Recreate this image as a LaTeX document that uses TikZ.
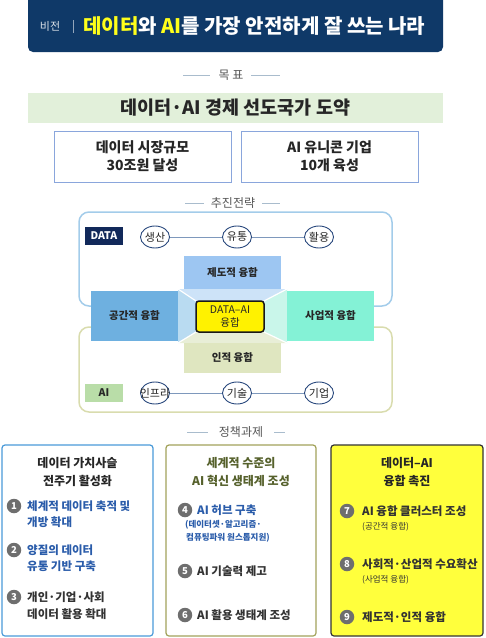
\documentclass[tikz,border=0pt]{standalone}
\usepackage{fontspec}
\setmainfont{Noto Sans CJK KR}
\usetikzlibrary{shapes.geometric}
\definecolor{navy}{HTML}{0F3968}
\definecolor{labnavy}{HTML}{12295A}
\definecolor{yel}{HTML}{FFFF1A}
\definecolor{bargreen}{HTML}{E2F0DA}
\definecolor{goalblue}{HTML}{8AA6DC}
\definecolor{dataline}{HTML}{A3CCEA}
\definecolor{ailine}{HTML}{D9DCAE}
\definecolor{circnavy}{HTML}{2B4A7E}
\definecolor{connblue}{HTML}{7E98BC}
\definecolor{aigreen}{HTML}{B9DDA8}
\definecolor{fTop}{HTML}{9DC6F2}
\definecolor{fLeft}{HTML}{6EB0E0}
\definecolor{fRight}{HTML}{84F2D6}
\definecolor{fBot}{HTML}{DFE6C0}
\definecolor{tTop}{HTML}{CDE3F8}
\definecolor{tLeft}{HTML}{B9DBF1}
\definecolor{tRight}{HTML}{C9F6EA}
\definecolor{tBot}{HTML}{E8EED7}
\definecolor{secgray}{HTML}{555555}
\definecolor{secline}{HTML}{A9BCCD}
\definecolor{bOne}{HTML}{4A9AD8}
\definecolor{bTwo}{HTML}{A2A25A}
\definecolor{bThree}{HTML}{333333}
\definecolor{yfill}{HTML}{FFFF3C}
\definecolor{itemblue}{HTML}{2A5CAA}
\definecolor{itemdark}{HTML}{333333}
\definecolor{olivehead}{HTML}{56612C}
\definecolor{numgray}{HTML}{6E6E6E}
\newcommand{\myfs}[1]{\fontsize{#1}{#1}\selectfont}
\begin{document}
\begin{tikzpicture}[x=1pt,y=-1pt,
  sechead/.style={font=\myfs{12}, text=secgray, inner sep=0},
  seclinestyle/.style={draw=secline, line width=0.8},
  goalbox/.style={draw=goalblue, line width=1, minimum width=177, minimum height=51, align=center, inner sep=0, font=\bfseries\fontsize{14}{18.5}\selectfont, text=black!85},
  circ/.style={ellipse, draw=circnavy, line width=0.9, fill=white, minimum width=29, minimum height=22, inner sep=0, font=\myfs{11}, text=black!85},
  conn/.style={draw=connblue, line width=0.7},
  fbox/.style={inner sep=0, font=\bfseries\myfs{10.5}, text=black!85},
  numc/.style={circle, fill=numgray, minimum size=14.5, inner sep=0, text=white, font=\bfseries\myfs{9.5}},
  itemtext/.style={anchor=west, inner sep=0, font=\bfseries\myfs{11.5}},
  subtext/.style={anchor=west, inner sep=0, font=\bfseries\myfs{8.5}},
  head/.style={inner sep=0, align=center, font=\bfseries\fontsize{12}{18}\selectfont}
]
\useasboundingbox (0,0) rectangle (486,638);
\begin{scope}
\clip (0,0) rectangle (486,638);
% ---------- vision banner
\fill[navy, rounded corners=5] (28,-10) rectangle (443,52);
\end{scope}
\node[inner sep=0, font=\myfs{11}, text=white!85!navy] (vlab) at (50,26) {비전};
\draw[draw=white!55!navy, line width=0.6] (73,20) -- (73,33);
\node[anchor=west, inner sep=0, font=\bfseries\myfs{20}, text=white] (vision) at (83,26)
  {\textcolor{yel}{데이터}와 \textcolor{yel}{AI}를 가장 안전하게 잘 쓰는 나라};
% ---------- goals
\node[sechead] (goal) at (231,75) {목 표};
\draw[seclinestyle] (183,75) -- (210,75);
\draw[seclinestyle] (251,75) -- (280,75);
\node[fill=bargreen, minimum width=415, minimum height=30, inner sep=0, font=\bfseries\myfs{18.5}, text=black!85] (goalbar) at (235.5,108) {데이터·AI 경제 선도국가 도약};
\node[goalbox] (g1) at (142.5,156.5) {데이터 시장규모\\30조원 달성};
\node[goalbox] (g2) at (329.5,156.5) {AI 유니콘 기업\\10개 육성};
% ---------- strategy
\node[sechead] (strat) at (233,203) {추진전략};
\draw[seclinestyle] (185,203) -- (204,203);
\draw[seclinestyle] (262,203) -- (280,203);
\draw[draw=dataline, line width=1.5, rounded corners=10] (79,212) rectangle (392,306);
\draw[draw=ailine, line width=1.5, rounded corners=10] (79,327) rectangle (392,412);
\node[fill=labnavy, text=white, font=\bfseries\myfs{10.5}, minimum width=38, minimum height=18, inner sep=0] (datalab) at (104,236) {DATA};
\node[fill=aigreen, text=black!85, font=\bfseries\myfs{10.5}, minimum width=38, minimum height=18, inner sep=0] (ailab) at (104,393) {AI};
\node[circ] (c1) at (155,237) {\makebox[0pt]{생산}};
\node[circ] (c2) at (237,237) {\makebox[0pt]{유통}};
\node[circ] (c3) at (319,237) {\makebox[0pt]{활용}};
\node[circ] (c4) at (155,393) {\makebox[0pt]{인프라}};
\node[circ] (c5) at (237,393) {\makebox[0pt]{기술}};
\node[circ] (c6) at (319,393) {\makebox[0pt]{기업}};
\draw[conn] (c1) -- (c2);
\draw[conn] (c2) -- (c3);
\draw[conn] (c4) -- (c5);
\draw[conn] (c5) -- (c6);
% trapezoids
\fill[tTop] (178,289) -- (287,289) -- (264,301) -- (196,301) -- cycle;
\fill[tLeft] (178,289) -- (196,301) -- (196,332) -- (178,343) -- cycle;
\fill[tRight] (287,289) -- (287,343) -- (264,332) -- (264,301) -- cycle;
\fill[tBot] (178,343) -- (287,343) -- (264,332) -- (196,332) -- cycle;
\draw[white, line width=1.2] (178,289) -- (196,301);
\draw[white, line width=1.2] (287,289) -- (264,301);
\draw[white, line width=1.2] (178,343) -- (196,332);
\draw[white, line width=1.2] (287,343) -- (264,332);
\node[fbox, fill=fTop, minimum width=97, minimum height=33] (ftop) at (232.5,272.5) {제도적 융합};
\node[fbox, fill=fLeft, minimum width=87, minimum height=50] (fleft) at (134.5,316) {공간적 융합};
\node[fbox, fill=fRight, minimum width=87, minimum height=50] (fright) at (330.5,316) {사업적 융합};
\node[fbox, fill=fBot, minimum width=97, minimum height=30] (fbot) at (232.5,358) {인적 융합};
\node[draw=black!90, line width=1.5, rounded corners=3, fill=yellow, minimum width=68, minimum height=31, inner sep=0, align=center, font=\fontsize{10.5}{12.5}\selectfont, text=black!85] (core) at (230,316.5) {DATA–AI\\융합};
% ---------- policy tasks
\node[sechead] (policy) at (241,432) {정책과제};
\draw[seclinestyle] (187,432) -- (208,432);
\draw[seclinestyle] (274,432) -- (285,432);
\draw[draw=bOne, line width=1.2, rounded corners=3] (2,445) rectangle (153,636);
\draw[draw=bTwo, line width=1.2, rounded corners=3] (166,445) rectangle (316,636);
\draw[draw=bThree, line width=1.2, rounded corners=3, fill=yfill] (331,445) rectangle (483,636);
\node[head, text=black!85] (h1) at (77.5,472) {데이터 가치사슬\\전주기 활성화};
\node[head, text=olivehead] (h2) at (241,472) {세계적 수준의\\AI 혁신 생태계 조성};
\node[head, text=black!85] (h3) at (407,472) {데이터–AI\\융합 촉진};
% box 1
\node[numc] (n1) at (14,506) {1};
\node[itemtext, text=itemblue] (t1a) at (27,506) {체계적 데이터 축적 및};
\node[itemtext, text=itemblue] (t1b) at (27,522) {개방 확대};
\node[numc] (n2) at (14,550) {2};
\node[itemtext, text=itemblue] (t2a) at (27,550) {양질의 데이터};
\node[itemtext, text=itemblue] (t2b) at (27,566) {유통 기반 구축};
\node[numc] (n3) at (14,597) {3};
\node[itemtext, text=itemdark] (t3a) at (27,597) {개인·기업·사회};
\node[itemtext, text=itemdark] (t3b) at (27,614) {데이터 활용 확대};
% box 2
\node[numc] (n4) at (185,510) {4};
\node[itemtext, text=itemblue] (t4a) at (197,510) {AI 허브 구축};
\node[subtext, text=itemblue] (t4b) at (185,525) {(데이터셋·알고리즘·};
\node[subtext, text=itemblue] (t4c) at (186,538) {컴퓨팅파워 원스톱지원)};
\node[numc] (n5) at (185,571) {5};
\node[itemtext, text=itemdark] (t5a) at (197,571) {AI 기술력 제고};
\node[numc] (n6) at (185,615) {6};
\node[itemtext, text=itemdark] (t6a) at (197,615) {AI 활용 생태계 조성};
% box 3
\node[numc] (n7) at (347,511) {7};
\node[itemtext, text=itemdark] (t7a) at (362,511) {AI 융합 클러스터 조성};
\node[subtext, text=itemdark, font=\myfs{8.5}] (t7b) at (362,527) {(공간적 융합)};
\node[numc] (n8) at (347,564) {8};
\node[itemtext, text=itemdark] (t8a) at (362,564) {사회적·산업적 수요확산};
\node[subtext, text=itemdark, font=\myfs{8.5}] (t8b) at (362,580) {(사업적 융합)};
\node[numc] (n9) at (347,617) {9};
\node[itemtext, text=itemdark] (t9a) at (362,617) {제도적·인적 융합};
\end{tikzpicture}
\end{document}
